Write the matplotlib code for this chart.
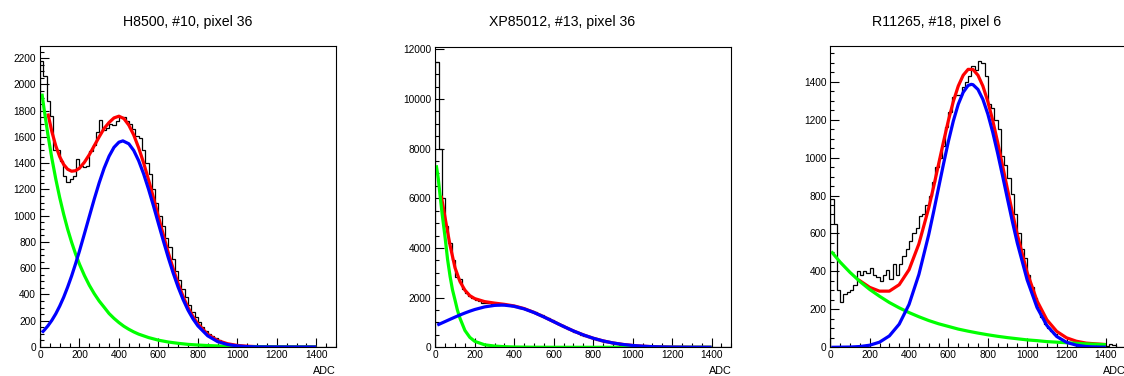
import numpy as np
import matplotlib
matplotlib.use('Agg')
import matplotlib.pyplot as plt
from matplotlib.ticker import MultipleLocator

plt.rcParams['font.family'] = ['Liberation Sans', 'DejaVu Sans']

### histogram binning (90 bins over 0 - 1500 ADC)
adc_min = 0
adc_max = 1500
n_bins = 90

### panel titles
titles = ['H8500, #10, pixel 36', 'XP85012, #13, pixel 36', 'R11265, #18, pixel 6']

### bin contents
h8500_counts = [2180, 2065, 1870, 1760, 1500, 1500, 1420, 1300, 1260, 1280,
                1300, 1430, 1380, 1370, 1380, 1490, 1540, 1640, 1730, 1650,
                1670, 1700, 1690, 1720, 1750, 1750, 1720, 1700, 1660, 1610,
                1590, 1500, 1400, 1320, 1200, 1100, 1000, 920, 830, 760,
                670, 580, 510, 440, 380, 320, 270, 225, 190, 150,
                125, 100, 80, 65, 50, 38, 30, 22, 16, 12,
                9, 7, 5, 4, 3, 2, 2, 1, 1, 0,
                0, 0, 0, 0, 0, 0, 0, 0, 0, 0,
                0, 0, 0, 0, 0, 0, 0, 0, 0, 0]

xp85012_counts = [11500, 8000, 6000, 4900, 4200, 3500, 2850, 2750, 2350, 2200,
                  2080, 2000, 1920, 1860, 1800, 1780, 1770, 1760, 1740, 1720,
                  1700, 1690, 1710, 1650, 1640, 1600, 1590, 1530, 1500, 1450,
                  1410, 1340, 1290, 1230, 1170, 1080, 1010, 940, 880, 810,
                  740, 680, 620, 560, 500, 450, 400, 360, 320, 280,
                  260, 230, 200, 175, 150, 130, 112, 95, 82, 70,
                  60, 50, 42, 35, 28, 22, 18, 14, 11, 9,
                  7, 5, 4, 3, 2, 2, 1, 1, 0, 0,
                  0, 0, 0, 0, 0, 0, 0, 0, 0, 0]

r11265_counts = [780, 650, 300, 240, 280, 290, 300, 330, 400, 380,
                 400, 390, 420, 380, 370, 350, 380, 410, 360, 440,
                 380, 440, 480, 520, 560, 600, 630, 690, 700, 750,
                 800, 870, 950, 1000, 1060, 1160, 1240, 1320, 1330, 1330,
                 1370, 1400, 1430, 1480, 1460, 1510, 1500, 1430, 1280, 1260,
                 1200, 1150, 1010, 960, 890, 810, 700, 600, 520, 470,
                 380, 320, 260, 210, 160, 125, 100, 85, 70, 55,
                 45, 35, 28, 22, 17, 13, 10, 8, 6, 4,
                 3, 2, 2, 1, 5, 15, 12, 4, 1, 0]

### fit curves: total (red), background (green), signal (blue)
h8500_total_x = [40, 60, 80, 100, 120, 140, 160, 180, 200, 225, 250, 275, 300, 325, 350, 375, 400, 425, 450, 475,
                 500, 525, 550, 575, 600, 625, 650, 675, 700, 725, 750, 775, 800, 850, 900, 950, 1000, 1050, 1100,
                 1200, 1300, 1400]
h8500_total_y = [1779, 1641, 1532, 1449, 1390, 1354, 1339, 1343, 1362, 1407, 1465, 1533, 1601, 1665, 1710, 1745, 1758,
                 1740, 1690, 1615, 1517, 1403, 1274, 1137, 993, 854, 719, 596, 484, 386, 301, 232, 176, 96, 49, 25,
                 12, 6, 3, 1.2, 0.5, 0.3]
h8500_bkg_x = [10, 20, 40, 60, 80, 100, 120, 140, 160, 180, 200, 225, 250, 275, 300, 325, 350, 375, 400, 425, 450,
               475, 500, 550, 600, 650, 700, 750, 800, 850, 900, 950, 1000, 1100, 1200, 1300, 1400]
h8500_bkg_y = [1930, 1820, 1618, 1438, 1279, 1137, 1011, 898, 799, 710, 631, 545, 470, 406, 350, 303, 255, 218, 186,
               158, 135, 115, 98, 72, 52, 38, 28, 20, 15, 11, 8, 6, 4, 2, 1, 0.5, 0.3]
h8500_sig_x = [10, 20, 40, 60, 80, 100, 120, 140, 160, 180, 200, 225, 250, 275, 300, 325, 350, 375, 400, 420, 450,
               475, 500, 525, 550, 575, 600, 625, 650, 675, 700, 725, 750, 775, 800, 850, 900, 950, 1000, 1050, 1100,
               1200, 1300, 1400]
h8500_sig_y = [110, 126, 161, 203, 253, 312, 379, 456, 540, 633, 731, 862, 995, 1127, 1251, 1362, 1453, 1521, 1560,
               1570, 1548, 1497, 1419, 1319, 1202, 1075, 941, 809, 681, 563, 456, 362, 281, 215, 161, 85, 41, 19, 8,
               3, 1, 0.2, 0, 0]

xp85012_total_x = [30, 40, 50, 60, 75, 100, 125, 150, 175, 200, 250, 300, 350, 400, 450, 500, 550, 600, 650, 700,
                   750, 800, 850, 900, 950, 1000, 1050, 1100, 1150, 1200, 1300, 1400]
xp85012_total_y = [6100, 5650, 5200, 4750, 4100, 3200, 2650, 2300, 2080, 1960, 1840, 1780, 1730, 1665, 1560, 1405,
                   1226, 1033, 840, 659, 500, 366, 258, 176, 116, 74, 45, 26, 15, 8, 2, 0.5]
xp85012_bkg_x = [5, 15, 25, 35, 50, 62, 75, 87, 100, 112, 125, 150, 175, 200, 250, 300, 350, 400, 500, 600, 800,
                 1000, 1200, 1400]
xp85012_bkg_y = [7330, 6800, 6050, 5350, 4400, 3550, 2850, 2320, 1900, 1500, 1170, 680, 400, 240, 100, 50, 25, 12,
                 3, 1, 0.2, 0, 0, 0]
xp85012_sig_x = [10, 25, 50, 75, 100, 125, 150, 175, 200, 250, 300, 335, 350, 400, 450, 500, 550, 600, 650, 700,
                 750, 800, 850, 900, 950, 1000, 1050, 1100, 1150, 1200, 1300, 1400]
xp85012_sig_y = [895, 949, 1038, 1128, 1216, 1301, 1381, 1455, 1522, 1627, 1687, 1700, 1697, 1650, 1547, 1400, 1223,
                 1031, 839, 658, 499, 365, 257, 175, 115, 73, 45, 26, 15, 8, 2, 0.5]

r11265_total_x = [140, 150, 200, 250, 300, 350, 400, 450, 500, 525, 550, 575, 600, 625, 650, 675, 700, 725, 750, 775,
                  800, 825, 850, 875, 900, 925, 950, 1000, 1050, 1100, 1150, 1200, 1250, 1300, 1350, 1400]
r11265_total_y = [357, 351, 316, 296, 296, 330, 409, 545, 735, 847, 965, 1083, 1196, 1296, 1377, 1434, 1465, 1464,
                  1434, 1377, 1296, 1196, 1081, 958, 833, 710, 594, 394, 245, 145, 84, 50, 32, 22, 18, 14.5]
r11265_bkg_x = [5, 50, 100, 150, 200, 250, 300, 350, 400, 450, 500, 550, 600, 650, 700, 750, 800, 850, 900, 950,
                1000, 1050, 1100, 1150, 1200, 1250, 1300, 1350, 1400]
r11265_bkg_y = [505, 449, 395, 347, 305, 269, 236, 208, 183, 161, 141, 124, 110, 96, 85, 75, 66, 58, 51, 45, 39, 35,
                30, 27, 24, 21, 18, 16, 14]
r11265_sig_x = [5, 100, 150, 200, 250, 300, 350, 400, 450, 500, 525, 550, 575, 600, 625, 650, 675, 700, 716, 725, 750,
                775, 800, 825, 850, 875, 900, 925, 950, 1000, 1050, 1100, 1150, 1200, 1250, 1300, 1350, 1400]
r11265_sig_y = [0, 1.4, 4, 11, 27, 60, 122, 226, 384, 594, 715, 841, 966, 1086, 1193, 1281, 1344, 1380, 1386, 1384,
                1359, 1307, 1230, 1134, 1023, 904, 782, 662, 549, 355, 210, 115, 57, 26, 11, 4, 1.6, 0.5]

counts = [h8500_counts, xp85012_counts, r11265_counts]
totals = [(h8500_total_x, h8500_total_y), (xp85012_total_x, xp85012_total_y), (r11265_total_x, r11265_total_y)]
bkgs = [(h8500_bkg_x, h8500_bkg_y), (xp85012_bkg_x, xp85012_bkg_y), (r11265_bkg_x, r11265_bkg_y)]
sigs = [(h8500_sig_x, h8500_sig_y), (xp85012_sig_x, xp85012_sig_y), (r11265_sig_x, r11265_sig_y)]

### axis settings per panel
x_ticks = [0, 200, 400, 600, 800, 1000, 1200, 1400]
y_max = [2295, 12080, 1588]
y_major = [200, 2000, 200]
y_minor = [50, 500, 50]

### axes placement in pixels (left, bottom, right, top) on the 1124x376 canvas
W, H = 1124.0, 376.0
frames = [(40.0, 347.0, 336.0, 45.7),
          (435.3, 347.3, 731.3, 47.3),
          (830.3, 347.3, 1125.6, 46.0)]
title_x = [187.5, 562.0, 937.0]

fig = plt.figure(figsize=(11.24, 3.76), dpi=100)

edges = np.linspace(adc_min, adc_max, n_bins + 1)

for i in range(3):
    l, b, r, t = frames[i]
    ax = fig.add_axes([l / W, 1 - b / H, (r - l) / W, (b - t) / H])

    ### histogram + fitted functions
    ax.stairs(counts[i], edges, color='black', linewidth=0.9, baseline=0)
    ax.plot(totals[i][0], totals[i][1], color='#ff0000', linewidth=2.3, solid_capstyle='butt')
    ax.plot(bkgs[i][0], bkgs[i][1], color='#00ff00', linewidth=2.3, solid_capstyle='butt')
    ax.plot(sigs[i][0], sigs[i][1], color='#0000ff', linewidth=2.3, solid_capstyle='butt')

    ### ROOT-like ticks: inside, left and bottom only
    ax.set_xticks(x_ticks)
    ax.xaxis.set_minor_locator(MultipleLocator(50))
    ax.yaxis.set_major_locator(MultipleLocator(y_major[i]))
    ax.yaxis.set_minor_locator(MultipleLocator(y_minor[i]))
    ax.set_xlim(adc_min, adc_max)
    ax.set_ylim(0, y_max[i])
    ax.tick_params(axis='both', which='both', direction='in', top=False, right=False, width=0.8,
                   labelsize=7.3)
    ax.tick_params(axis='both', which='major', length=6.5)
    ax.tick_params(axis='both', which='minor', length=3.2)
    ax.tick_params(axis='x', which='major', pad=2.2)
    ax.tick_params(axis='y', which='major', pad=2.8)

    for side in ['top', 'bottom', 'left', 'right']:
        ax.spines[side].set_linewidth(0.8)

    ### axis label at the right end of the x-axis
    fig.text(r / W, 1 - 374.3 / H, 'ADC', ha='right', va='baseline', fontsize=7.8)

    ### title centred on each pad
    fig.text(title_x[i] / W, 1 - 25.7 / H, titles[i], ha='center', va='baseline', fontsize=10.2)

plt.savefig('out.png', dpi=100)
plt.close(fig)
